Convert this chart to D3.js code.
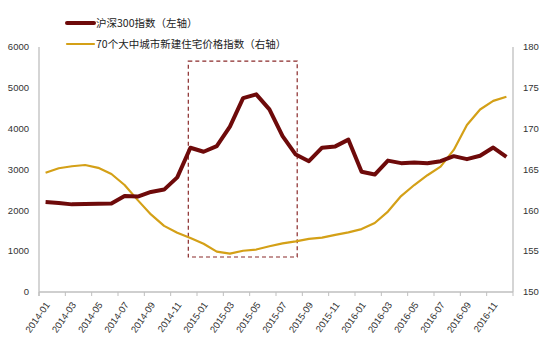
<!DOCTYPE html>
<html><head><meta charset="utf-8">
<script src="https://cdn.jsdelivr.net/npm/d3@7"></script>
<style>body{margin:0;background:#fff}svg{display:block}</style>
</head><body><svg id="c" width="550" height="337"></svg>
<script>
const months = [];
for (const y of [2014, 2015, 2016]) for (let m = 1; m <= 12; m++) months.push(y + "-" + String(m).padStart(2, "0"));
const csi300 = [2202,2179,2146,2158,2160,2165,2350,2338,2450,2508,2808,3533,
                3434,3572,4051,4749,4841,4473,3816,3366,3203,3534,3566,3731,
                2946,2877,3218,3156,3169,3154,3204,3327,3253,3336,3538,3310];
const housing = [164.6,165.15,165.4,165.55,165.2,164.45,163.1,161.25,159.5,158.1,157.25,156.6,
                 155.9,154.95,154.7,155.05,155.2,155.6,155.95,156.2,156.5,156.65,157.0,157.3,
                 157.7,158.45,159.85,161.75,163.1,164.3,165.35,167.4,170.45,172.35,173.4,173.9];
const leftTicks = [0,1000,2000,3000,4000,5000,6000];
const rightTicks = [150,155,160,165,170,175,180];
const seriesNames = ["沪深300指数（左轴）", "70个大中城市新建住宅价格指数（右轴）"];
// highlight box: category (point-center) index span and left-axis value span
const boxIdx = [10.84, 19.11];
const boxVal = [857, 5655];

const svg = d3.select("#c");
const L = 39, R = 513, T = 47, B = 292;
const n = months.length;
const xIdx = d3.scaleLinear().domain([0, n]).range([L, R]);
const xc = i => xIdx(i + 0.5);
const yL = d3.scaleLinear().domain([0, 6000]).range([B, T]);
const yR = d3.scaleLinear().domain([150, 180]).range([B, T]);
const font = "'Liberation Sans', Arial, sans-serif";
const cjk = "'Noto Sans CJK SC', sans-serif";

// axes lines
svg.append("line").attr("x1", L).attr("x2", L).attr("y1", T).attr("y2", B + 4).attr("stroke", "#bfbfbf").attr("stroke-width", 1.3);
svg.append("line").attr("x1", R).attr("x2", R).attr("y1", T).attr("y2", B).attr("stroke", "#bfbfbf").attr("stroke-width", 1.3);
svg.append("line").attr("x1", L).attr("x2", R).attr("y1", B).attr("y2", B).attr("stroke", "#bfbfbf").attr("stroke-width", 1.3);

// x ticks every 2 categories
for (let i = 0; i <= n; i += 2) {
  svg.append("line").attr("x1", xIdx(i)).attr("x2", xIdx(i)).attr("y1", B).attr("y2", B + 4).attr("stroke", "#bfbfbf").attr("stroke-width", 1);
}
// x labels
months.forEach((m, i) => {
  if (i % 2 !== 0) return;
  svg.append("text").attr("transform", `translate(${xc(i) + 2},${B + 11}) rotate(-55)`)
    .attr("text-anchor", "end").attr("dy", "0.35em")
    .attr("font-family", font).attr("font-size", 9.5).attr("fill", "#333").text(m);
});
// left tick labels
svg.selectAll(".yl").data(leftTicks).enter().append("text")
  .attr("x", L - 10).attr("y", d => yL(d)).attr("dy", "0.35em").attr("text-anchor", "end")
  .attr("font-family", font).attr("font-size", 9.5).attr("fill", "#333").text(d => d);
svg.selectAll(".yr").data(rightTicks).enter().append("text")
  .attr("x", R + 10).attr("y", d => yR(d)).attr("dy", "0.35em").attr("text-anchor", "start")
  .attr("font-family", font).attr("font-size", 9.5).attr("fill", "#333").text(d => d);

// dashed box
svg.append("rect").attr("x", xc(boxIdx[0])).attr("y", yL(boxVal[1]))
  .attr("width", xc(boxIdx[1]) - xc(boxIdx[0])).attr("height", yL(boxVal[0]) - yL(boxVal[1]))
  .attr("fill", "none").attr("stroke", "#8a2a2a").attr("stroke-width", 1.2).attr("stroke-dasharray", "4,3");

// lines
const lineL = d3.line().x((d, i) => xc(i)).y(d => yL(d));
const lineR = d3.line().x((d, i) => xc(i)).y(d => yR(d));
svg.append("path").attr("d", lineR(housing)).attr("fill", "none").attr("stroke", "#d4a017").attr("stroke-width", 2.2).attr("stroke-linejoin", "round");
svg.append("path").attr("d", lineL(csi300)).attr("fill", "none").attr("stroke", "#6e0a0a").attr("stroke-width", 4).attr("stroke-linejoin", "round");

// legend
const leg = [{c: "#6e0a0a", w: 4, y: 23}, {c: "#d4a017", w: 2.2, y: 44}];
leg.forEach((l, k) => {
  svg.append("line").attr("x1", 67).attr("x2", 94).attr("y1", l.y).attr("y2", l.y).attr("stroke", l.c).attr("stroke-width", l.w).attr("stroke-linecap", "round");
  svg.append("text").attr("x", 96).attr("y", l.y).attr("dy", "0.35em").attr("font-family", cjk).attr("font-size", 10.5).attr("fill", "#222").text(seriesNames[k]);
});
</script></body></html>
